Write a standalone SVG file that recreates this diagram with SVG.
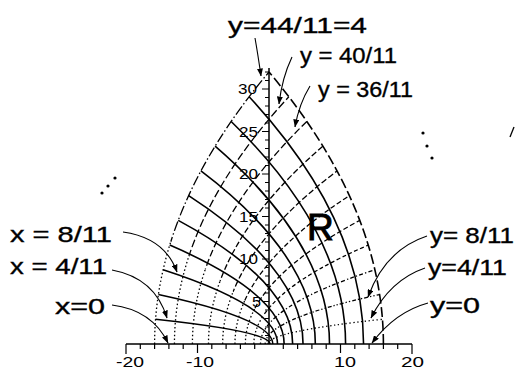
<svg xmlns="http://www.w3.org/2000/svg" width="516" height="375" viewBox="0 0 516 375">
<defs>
<marker id="ah" markerWidth="8" markerHeight="6" refX="7.5" refY="3" orient="auto" markerUnits="userSpaceOnUse">
<path d="M0,0 L8,3 L0,6 Z" fill="#000"/>
</marker>
<clipPath id="cLow"><polygon points="0,225 150,225 266,318 266,375 0,375"/></clipPath>
<clipPath id="cHigh"><polygon points="0,0 516,0 516,375 266,375 266,318 150,225 0,225"/></clipPath>
<path id="y1" d="M268.05,344 Q268.05,331.64 382.45,319.27"/>
<path id="y2" d="M265.22,344 Q265.22,319.27 379.62,294.55"/>
<path id="y3" d="M260.49,344 Q260.49,306.91 374.89,269.82"/>
<path id="y4" d="M253.87,344 Q253.87,294.55 368.27,245.09"/>
<path id="y5" d="M245.36,344 Q245.36,282.18 359.76,220.36"/>
<path id="y6" d="M234.96,344 Q234.96,269.82 349.36,195.64"/>
<path id="y7" d="M222.67,344 Q222.67,257.45 337.07,170.91"/>
<path id="y8" d="M208.49,344 Q208.49,245.09 322.89,146.18"/>
<path id="y9" d="M192.42,344 Q192.42,232.73 306.82,121.45"/>
<path id="y10" d="M174.45,344 Q174.45,220.36 288.85,96.73"/>
<path id="y11" d="M154.6,344 Q154.6,208 269,72"/>
<style>
.ax{stroke:#000;stroke-width:1.5;fill:none}
.tick{stroke:#000;stroke-width:1.2;fill:none}
.xc{stroke:#000;stroke-width:1.6;fill:none}
.yc{stroke:#000;stroke-width:1.3;fill:none}
.dot{stroke-dasharray:1.5 2.4}
.d1{stroke-dasharray:1.3 2.6}
.d2{stroke-dasharray:4 2 1.3 2 1.3 2}
.d3{stroke-dasharray:4 2.2 1.3 2.2}
.d4{stroke-dasharray:4 2.5}
.d5{stroke-dasharray:5 2.5}
.d6{stroke-dasharray:5 2.5}
.d7{stroke-dasharray:6 2.5}
.d8{stroke-dasharray:6 2.5}
.d9{stroke-dasharray:7 3}
.d10{stroke-dasharray:8 3}
.d11{stroke-dasharray:10 2.5 1.5 2.5}
.bd{stroke-dasharray:10 3.5}
.ar{stroke:#000;stroke-width:1.1;fill:none;marker-end:url(#ah)}
.hw{font-family:"Liberation Sans",Arial,sans-serif;font-size:22px;fill:#000;stroke:#000;stroke-width:0.35}
.tl{font-family:"Liberation Sans",Arial,sans-serif;font-size:14.5px;fill:#000}
.big{font-family:"Liberation Sans",Arial,sans-serif;font-size:37px;fill:#000;stroke:#000;stroke-width:1}
</style>
</defs>
<rect width="516" height="375" fill="#fff"/>

<g id="axes">
<path class="ax" d="M126,344 H412 M269,344 V68"/>
<path class="tick" d="M126,344v10 M140.3,344v5 M154.6,344v5 M168.9,344v5 M183.2,344v5 M197.5,344v9 M211.8,344v5 M226.1,344v5 M240.4,344v5 M254.7,344v5 M283.3,344v5 M297.6,344v5 M311.9,344v5 M326.2,344v5 M340.5,344v9 M354.8,344v5 M369.1,344v5 M383.4,344v5 M397.7,344v5 M412,344v10"/>
<path class="tick" d="M269,335.5h-4 M269,327h-4 M269,318.5h-4 M269,310h-4 M269,301.5h-7 M269,293h-4 M269,284.5h-4 M269,276h-4 M269,267.5h-4 M269,259h-7 M269,250.5h-4 M269,242h-4 M269,233.5h-4 M269,225h-4 M269,216.5h-7 M269,208h-4 M269,199.5h-4 M269,191h-4 M269,182.5h-4 M269,174h-7 M269,165.5h-4 M269,157h-4 M269,148.5h-4 M269,140h-4 M269,131.5h-7 M269,123h-4 M269,114.5h-4 M269,106h-4 M269,97.5h-4 M269,89h-7 M269,80.5h-4 M269,72h-4"/>
<g class="tl">
<text x="252" y="306.5" textLength="9" lengthAdjust="spacingAndGlyphs">5</text>
<text x="239" y="264" textLength="19" lengthAdjust="spacingAndGlyphs">10</text>
<text x="239" y="221.5" textLength="19" lengthAdjust="spacingAndGlyphs">15</text>
<text x="239" y="179" textLength="19" lengthAdjust="spacingAndGlyphs">20</text>
<text x="239" y="136.5" textLength="19" lengthAdjust="spacingAndGlyphs">25</text>
<text x="238" y="94" textLength="19" lengthAdjust="spacingAndGlyphs">30</text>
<text x="116" y="367" textLength="28" lengthAdjust="spacingAndGlyphs">-20</text>
<text x="186" y="367" textLength="28" lengthAdjust="spacingAndGlyphs">-10</text>
<text x="334" y="367" textLength="22" lengthAdjust="spacingAndGlyphs">10</text>
<text x="401" y="367" textLength="23" lengthAdjust="spacingAndGlyphs">20</text>
</g>
</g>

<g id="x-curves">
<path class="xc" d="M269.95,344 Q269.95,331.64 155.55,319.27"/>
<path class="xc" d="M272.78,344 Q272.78,319.27 158.38,294.55"/>
<path class="xc" d="M277.51,344 Q277.51,306.91 163.11,269.82"/>
<path class="xc" d="M284.13,344 Q284.13,294.55 169.73,245.09"/>
<path class="xc" d="M292.64,344 Q292.64,282.18 178.24,220.36"/>
<path class="xc" d="M303.04,344 Q303.04,269.82 188.64,195.64"/>
<path class="xc" d="M315.33,344 Q315.33,257.45 200.93,170.91"/>
<path class="xc" d="M329.51,344 Q329.51,245.09 215.11,146.18"/>
<path class="xc" d="M345.58,344 Q345.58,232.73 231.18,121.45"/>
<path class="xc" d="M363.55,344 Q363.55,220.36 249.15,96.73"/>
<path class="xc bd" d="M383.4,344 Q383.4,208 269,72"/>
</g>

<g id="y-curves" class="yc">
<g clip-path="url(#cHigh)">
<use href="#y1" class="d1"/>
<use href="#y2" class="d2"/>
<use href="#y3" class="d3"/>
<use href="#y4" class="d4"/>
<use href="#y5" class="d5"/>
<use href="#y6" class="d6"/>
<use href="#y7" class="d7"/>
<use href="#y8" class="d8"/>
<use href="#y9" class="d9"/>
<use href="#y10" class="d10"/>
<use href="#y11" class="d11"/>
</g>
<g clip-path="url(#cLow)" class="dot">
<use href="#y2"/>
<use href="#y3"/>
<use href="#y4"/>
<use href="#y5"/>
<use href="#y6"/>
<use href="#y7"/>
<use href="#y8"/>
<use href="#y9"/>
<use href="#y10"/>
<use href="#y11"/>
</g>
</g>

<g id="connectors">
<path class="ar" d="M255,38 Q258,55 261,76"/>
<path class="ar" d="M292,57 Q282,78 279,104"/>
<path class="ar" d="M310,86 Q299,104 295,127"/>
<path class="ar" d="M427,236 Q385,250 368,297"/>
<path class="ar" d="M425,268 Q390,280 371,318"/>
<path class="ar" d="M428,303 Q395,312 372,343"/>
<path class="ar" d="M123,232 Q165,238 177,272"/>
<path class="ar" d="M112,270 Q155,278 167,318"/>
<path class="ar" d="M112,305 Q152,310 168,343"/>
</g>

<g id="label-y44"><text class="hw" x="228" y="33" textLength="139" lengthAdjust="spacingAndGlyphs">y=44/11=4</text></g>
<g id="label-y40"><text class="hw" x="300" y="63" textLength="97" lengthAdjust="spacingAndGlyphs">y = 40/11</text></g>
<g id="label-y36"><text class="hw" x="318" y="97" textLength="95" lengthAdjust="spacingAndGlyphs">y = 36/11</text></g>
<g id="label-y8"><text class="hw" x="430" y="243" textLength="84" lengthAdjust="spacingAndGlyphs">y= 8/11</text></g>
<g id="label-y4"><text class="hw" x="428" y="275" textLength="79" lengthAdjust="spacingAndGlyphs">y=4/11</text></g>
<g id="label-y0"><text class="hw" x="430" y="313" textLength="50" lengthAdjust="spacingAndGlyphs">y=0</text></g>
<g id="label-x8"><text class="hw" x="10" y="242" textLength="102" lengthAdjust="spacingAndGlyphs">x = 8/11</text></g>
<g id="label-x4"><text class="hw" x="10" y="274" textLength="97" lengthAdjust="spacingAndGlyphs">x = 4/11</text></g>
<g id="label-x0"><text class="hw" x="55" y="314" textLength="50" lengthAdjust="spacingAndGlyphs">x=0</text></g>
<g id="label-R"><text class="big" x="307" y="240">R</text></g>

<g id="dots" fill="#000">
<circle cx="102" cy="193" r="1.6"/>
<circle cx="108" cy="186" r="1.6"/>
<circle cx="115" cy="178" r="1.6"/>
<circle cx="423" cy="133" r="1.6"/>
<circle cx="427" cy="146" r="1.6"/>
<circle cx="432" cy="158" r="1.6"/>
<path d="M510,137 L514,127" stroke="#000" stroke-width="1.3"/>
</g>
</svg>
